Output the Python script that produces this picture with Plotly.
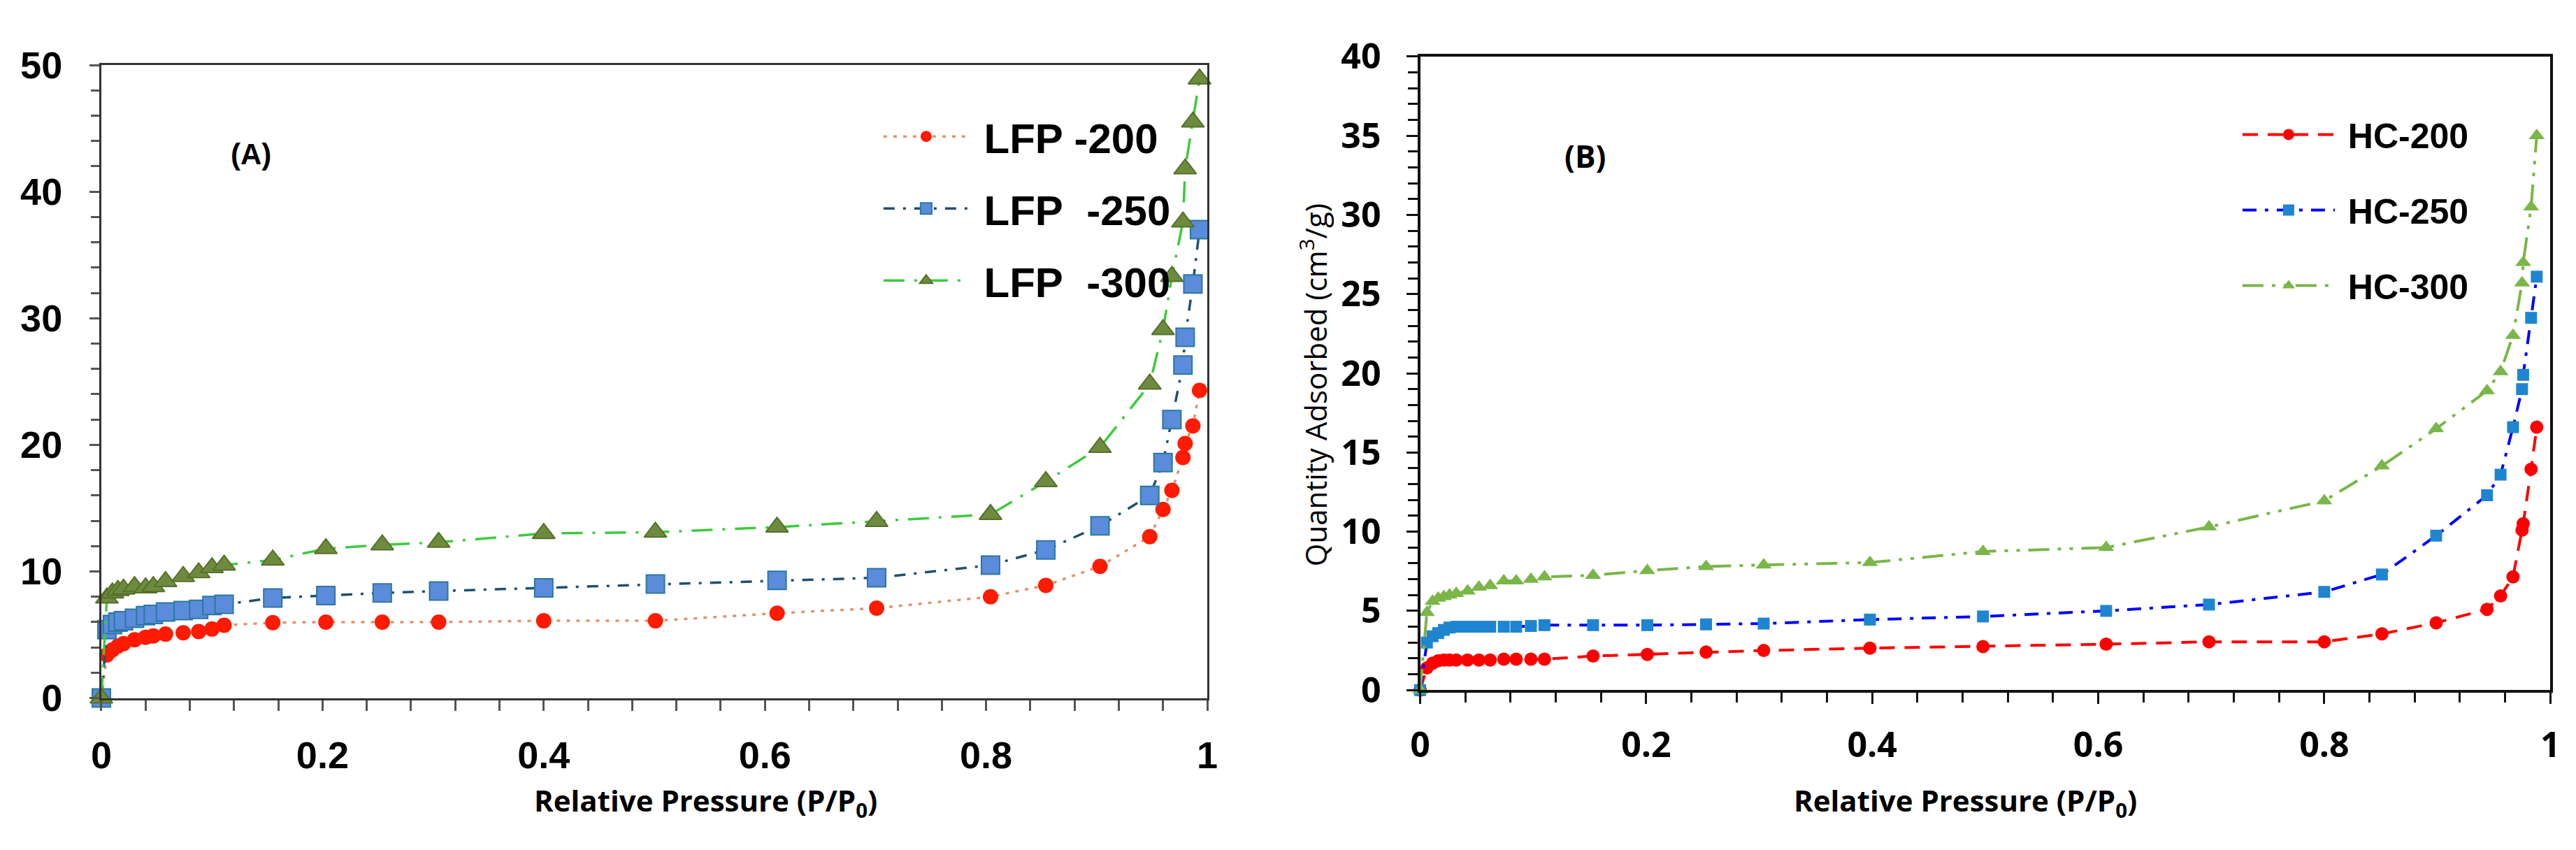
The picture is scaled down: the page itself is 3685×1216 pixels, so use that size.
import plotly.graph_objects as go

W, H = 3685, 1216

# (A) LFP samples
lfp_pressure = [0, 0.005, 0.01, 0.015, 0.02, 0.03, 0.04, 0.047, 0.058, 0.074, 0.088, 0.1, 0.111,
                0.155, 0.203, 0.254, 0.305, 0.4, 0.501, 0.611, 0.701, 0.804, 0.854, 0.903,
                0.948, 0.96, 0.968, 0.978, 0.98, 0.987, 0.993]
lfp_200 = [0, 3.4, 3.8, 4.1, 4.3, 4.6, 4.8, 4.9, 5.05, 5.15, 5.25, 5.45, 5.75,
           5.95, 6.0, 6.0, 6.0, 6.1, 6.1, 6.7, 7.1, 8.0, 8.9, 10.4,
           12.75, 14.9, 16.4, 19.0, 20.1, 21.5, 24.3]
lfp_250 = [0, 5.4, 5.8, 6.0, 6.1, 6.3, 6.5, 6.6, 6.8, 6.9, 7.0, 7.3, 7.4,
           7.9, 8.1, 8.3, 8.45, 8.7, 9.0, 9.3, 9.5, 10.5, 11.7, 13.6,
           16.0, 18.6, 22.0, 26.3, 28.5, 32.7, 37.0]
lfp_300 = [0, 7.9, 8.3, 8.5, 8.6, 8.8, 8.7, 8.8, 9.2, 9.6, 9.9, 10.3, 10.5,
           10.9, 11.8, 12.1, 12.3, 13.0, 13.1, 13.5, 13.95, 14.5, 17.1, 19.8,
           24.8, 29.1, 33.3, 37.6, 41.8, 45.5, 48.9]

# (B) HC samples
hc_pressure = [0, 0.006, 0.011, 0.016, 0.021, 0.026, 0.032, 0.042, 0.052, 0.062, 0.074, 0.085, 0.098, 0.11,
               0.153, 0.201, 0.253, 0.304, 0.398, 0.498, 0.607, 0.698, 0.8, 0.851, 0.899,
               0.944, 0.956, 0.967, 0.975, 0.976, 0.983, 0.988]
hc_200 = [0, 1.4, 1.7, 1.85, 1.9, 1.9, 1.9, 1.9, 1.9, 1.9, 1.95, 1.95, 1.95, 1.95,
          2.15, 2.25, 2.4, 2.5, 2.65, 2.75, 2.9, 3.05, 3.05, 3.55, 4.25,
          5.1, 5.95, 7.15, 10.1, 10.5, 13.95, 16.6]
hc_250 = [0, 3.0, 3.4, 3.6, 3.8, 3.95, 4.0, 4.0, 4.0, 4.0, 4.0, 4.0, 4.05, 4.1,
          4.1, 4.1, 4.15, 4.2, 4.45, 4.65, 5.0, 5.4, 6.2, 7.3, 9.75,
          12.3, 13.6, 16.6, 19.0, 19.9, 23.5, 26.1]
hc_300 = [0, 4.9, 5.6, 5.8, 5.9, 6.0, 6.1, 6.25, 6.5, 6.6, 6.9, 6.9, 7.0, 7.15,
          7.25, 7.55, 7.8, 7.9, 8.05, 8.75, 9.0, 10.3, 11.95, 14.15, 16.5,
          18.9, 20.1, 22.4, 25.7, 27.0, 30.5, 35.0]

# legend labels (leading no-break space keeps the gap after the sample line)
lfp_names = ["\u00a0LFP -200", "\u00a0LFP\u00a0\u00a0-250", "\u00a0LFP\u00a0\u00a0-300"]
hc_names = ["\u00a0HC-200", "\u00a0HC-250", "\u00a0HC-300"]


def fx(px):
    return px / W


def fy(px):
    return 1 - px / H


fig = go.Figure()

# panel A
fig.add_trace(go.Scatter(x=lfp_pressure, y=lfp_200, name=lfp_names[0], mode="lines+markers",
                         line=dict(color="#E0956A", width=3.5, dash="5px,9px"),
                         marker=dict(symbol="circle", size=22, color="#FF1A00", line=dict(width=0)),
                         xaxis="x", yaxis="y", legend="legend", legendgroup="a1", cliponaxis=False))
fig.add_trace(go.Scatter(x=lfp_pressure, y=lfp_250, name=lfp_names[1], mode="lines+markers",
                         line=dict(color="#1F5070", width=3.5, dash="16px,12px,4px,12px"),
                         marker=dict(symbol="square", size=26, color="#5B8BDB", line=dict(color="#2A78A0", width=2)),
                         xaxis="x", yaxis="y", legend="legend", legendgroup="a2", cliponaxis=False))
fig.add_trace(go.Scatter(x=lfp_pressure, y=lfp_300, name=lfp_names[2], mode="lines+markers",
                         line=dict(color="#3CCB3C", width=3.5, dash="30px,14px,4px,14px"),
                         marker=dict(symbol="triangle-up", size=28, color="#6E8B3D", line=dict(color="#55702C", width=2)),
                         xaxis="x", yaxis="y", legend="legend", legendgroup="a3", cliponaxis=False))

# panel B
fig.add_trace(go.Scatter(x=hc_pressure, y=hc_200, name=hc_names[0], mode="lines+markers",
                         line=dict(color="#FF0000", width=4, dash="22px,14px"),
                         marker=dict(symbol="circle", size=19, color="#FF0000"),
                         xaxis="x2", yaxis="y2", legend="legend2", legendgroup="b1", cliponaxis=False))
fig.add_trace(go.Scatter(x=hc_pressure, y=hc_250, name=hc_names[1], mode="lines+markers",
                         line=dict(color="#0000FF", width=4, dash="20px,12px,5px,12px"),
                         marker=dict(symbol="square", size=17, color="#1F85D1"),
                         xaxis="x2", yaxis="y2", legend="legend2", legendgroup="b2", cliponaxis=False))
fig.add_trace(go.Scatter(x=hc_pressure, y=hc_300, name=hc_names[2], mode="lines+markers",
                         line=dict(color="#7AB648", width=4, dash="30px,12px,5px,12px,5px,12px"),
                         marker=dict(symbol="triangle-up", size=20, color="#7AB648"),
                         xaxis="x2", yaxis="y2", legend="legend2", legendgroup="b3", cliponaxis=False))

tickA = dict(family="Liberation Sans", size=54, color="black", weight="bold")
tickB = dict(family="Open Sans", size=50, color="black", weight="bold")
axis_common = dict(showgrid=False, zeroline=False, showline=True, mirror=True, ticks="outside")


def note(text, x, y, font, angle=0):
    return dict(text=text, x=fx(x), y=fy(y), xref="paper", yref="paper", showarrow=False,
                xanchor="center", yanchor="middle", textangle=angle, font=font)


fig.update_layout(
    width=W, height=H,
    margin=dict(l=0, r=0, t=0, b=0),
    paper_bgcolor="white", plot_bgcolor="white",
    xaxis=dict(axis_common, domain=[fx(123), fx(1718)], range=[0, 1], dtick=0.2, tick0=0, anchor="y",
               linecolor="#333333", linewidth=3, ticklen=15, tickwidth=3, tickcolor="#555555",
               tickfont=tickA, ticklabelstandoff=18,
               minor=dict(dtick=0.04, ticks="outside", ticklen=15, tickwidth=3, tickcolor="#555555")),
    yaxis=dict(axis_common, domain=[fy(1012), fy(52)], range=[0, 50], dtick=10, anchor="x",
               linecolor="#333333", linewidth=3, ticklen=14, tickwidth=3, tickcolor="#555555",
               tickfont=tickA, ticklabelstandoff=28,
               minor=dict(dtick=2, ticks="outside", ticklen=12, tickwidth=3, tickcolor="#555555")),
    xaxis2=dict(axis_common, domain=[fx(2025), fx(3655)], range=[0, 1], dtick=0.2, tick0=0, anchor="y2",
                linecolor="#111111", linewidth=4, ticklen=16, tickwidth=3, tickcolor="#111111",
                tickfont=tickB, ticklabelstandoff=16,
                minor=dict(dtick=0.04, ticks="outside", ticklen=14, tickwidth=3, tickcolor="#111111")),
    yaxis2=dict(axis_common, domain=[fy(1000), fy(39)], range=[0, 40], dtick=5, anchor="x2",
                linecolor="#111111", linewidth=4, ticklen=16, tickwidth=3, tickcolor="#111111",
                tickfont=tickB, ticklabelstandoff=26,
                minor=dict(dtick=1, ticks="outside", ticklen=14, tickwidth=3, tickcolor="#111111")),
    legend=dict(x=fx(1246), y=fy(112), xanchor="left", yanchor="top", bgcolor="rgba(0,0,0,0)",
                font=dict(family="Liberation Sans", size=60, color="black", weight="bold"),
                itemwidth=122, tracegroupgap=22, traceorder="grouped"),
    legend2=dict(x=fx(3206), y=fy(116), xanchor="left", yanchor="top", bgcolor="rgba(0,0,0,0)",
                 font=dict(family="Liberation Sans", size=50, color="black", weight="bold"),
                 itemwidth=132, tracegroupgap=40, traceorder="grouped"),
    showlegend=True,
    annotations=[
        note("(A)", 339, 187, dict(family="Liberation Sans", size=42, color="black", weight="bold")),
        note("(B)", 2263, 190, dict(family="Open Sans", size=44, color="black", weight="bold")),
        note("Relative Pressure (P/P<sub>0</sub>)", 995, 1170,
             dict(family="Open Sans", size=42, color="black", weight="bold")),
        note("Relative Pressure (P/P<sub>0</sub>)", 2811, 1170,
             dict(family="Open Sans", size=42, color="black", weight="bold")),
        note("Quantity Adsorbed (cm<sup>3</sup>/g)", 1872, 537,
             dict(family="Open Sans", size=42, color="black"), angle=-90),
    ],
)

fig.write_html("out.html")
